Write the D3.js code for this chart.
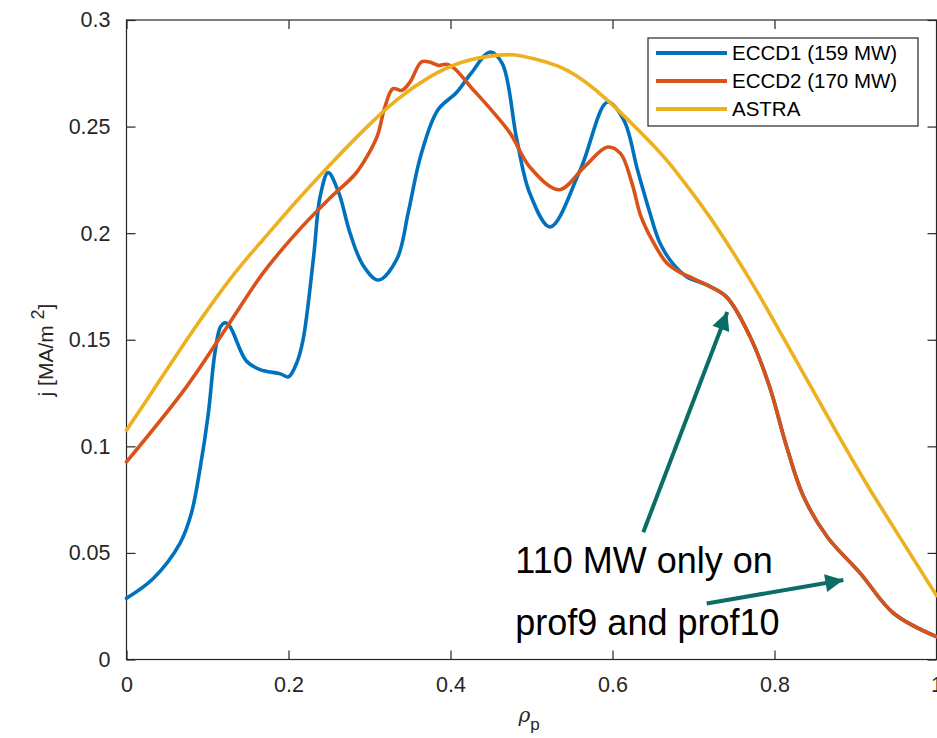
<!DOCTYPE html>
<html>
<head>
<meta charset="utf-8">
<script src="https://cdn.jsdelivr.net/npm/d3@7"></script>
<style>
  html, body { margin: 0; padding: 0; background: #fff; }
  svg { display: block; font-family: "Liberation Sans", Arial, sans-serif; }
</style>
</head>
<body>
<svg id="chart" width="937" height="738"></svg>
<script>
// ---- data ----
const eccd1 = [
  [0, 0.0287], [0.033, 0.038], [0.066, 0.0545], [0.080, 0.0685], [0.091, 0.090],
  [0.101, 0.1154], [0.109, 0.1435], [0.116, 0.156], [0.122, 0.158], [0.128, 0.156],
  [0.148, 0.140], [0.165, 0.136], [0.19, 0.134], [0.200, 0.1326], [0.210, 0.139],
  [0.218, 0.150], [0.231, 0.189], [0.239, 0.217], [0.249, 0.2284], [0.262, 0.219],
  [0.276, 0.200], [0.292, 0.185], [0.311, 0.178], [0.334, 0.188],
  [0.348, 0.210], [0.363, 0.236], [0.384, 0.2576], [0.408, 0.2662], [0.425, 0.2748],
  [0.449, 0.285], [0.464, 0.2795], [0.482, 0.2436], [0.498, 0.2186], [0.523, 0.2029],
  [0.560, 0.2295], [0.594, 0.2615], [0.614, 0.253], [0.631, 0.2295], [0.645, 0.211],
  [0.659, 0.195], [0.675, 0.1855], [0.692, 0.1795], [0.717, 0.1756], [0.741, 0.170],
  [0.770, 0.1513], [0.794, 0.1279], [0.815, 0.0998], [0.836, 0.0763], [0.865, 0.0576],
  [0.906, 0.0404], [0.947, 0.0217], [1.0, 0.0107]
];
const eccd2 = [
  [0, 0.0927], [0.074, 0.1279], [0.124, 0.156], [0.168, 0.181], [0.209, 0.1998],
  [0.250, 0.216], [0.283, 0.228], [0.299, 0.2373], [0.310, 0.246], [0.319, 0.2592],
  [0.329, 0.2678], [0.340, 0.267], [0.350, 0.2709], [0.364, 0.2803], [0.374, 0.2803],
  [0.385, 0.2787], [0.395, 0.2792], [0.405, 0.2772], [0.425, 0.2686], [0.449, 0.2584],
  [0.474, 0.2467], [0.498, 0.231], [0.534, 0.2204], [0.565, 0.231], [0.594, 0.2404],
  [0.610, 0.2373], [0.624, 0.2235], [0.635, 0.208], [0.650, 0.196], [0.667, 0.186],
  [0.684, 0.1815], [0.700, 0.1787], [0.717, 0.1756], [0.741, 0.170], [0.770, 0.1513],
  [0.794, 0.1279], [0.815, 0.0998], [0.836, 0.0763], [0.865, 0.0576], [0.906, 0.0404],
  [0.947, 0.0217], [1.0, 0.0107]
];
const astra = [
  [0, 0.1076], [0.033, 0.1263], [0.074, 0.1498], [0.127, 0.178], [0.168, 0.1967],
  [0.209, 0.2146], [0.251, 0.232], [0.292, 0.248], [0.333, 0.2623], [0.374, 0.2732],
  [0.415, 0.2803], [0.456, 0.2834], [0.480, 0.2836], [0.503, 0.2818], [0.544, 0.2764],
  [0.594, 0.2623], [0.647, 0.2425], [0.675, 0.2305], [0.709, 0.2135], [0.737, 0.198],
  [0.770, 0.178], [0.799, 0.159], [0.836, 0.134], [0.856, 0.1205], [0.885, 0.101],
  [0.915, 0.0815], [0.947, 0.062], [1.0, 0.030]
];
const seriesNames = ["ECCD1 (159 MW)", "ECCD2 (170 MW)", "ASTRA"];
const seriesColors = ["#0072BD", "#D95319", "#EDB120"];
const xTicks = [0, 0.2, 0.4, 0.6, 0.8, 1];
const xTickLabels = ["0", "0.2", "0.4", "0.6", "0.8", "1"];
const yTicks = [0, 0.05, 0.1, 0.15, 0.2, 0.25, 0.3];
const yTickLabels = ["0", "0.05", "0.1", "0.15", "0.2", "0.25", "0.3"];
const annotationLines = ["110 MW only on", "prof9 and prof10"];
const annotationText = [[0.48, 0.0406], [0.48, 0.0115]];
const arrows = [
  { from: [0.638, 0.0597], to: [0.7417, 0.163] },
  { from: [0.7163, 0.0263], to: [0.885, 0.0373] }
];

// ---- layout ----
const svg = d3.select("#chart");
const L = 126.5, R = 936.5, T = 20, B = 659.5;
const x = d3.scaleLinear().domain([0, 1]).range([L, R]);
const y = d3.scaleLinear().domain([0, 0.3]).range([B, T]);
const axisColor = "#262626";
const tickLen = 9;

// box
svg.append("rect").attr("x", L).attr("y", T).attr("width", R - L).attr("height", B - T)
  .attr("fill", "none").attr("stroke", axisColor).attr("stroke-width", 1.2);

// axes (ticks inward)
const xAxisB = d3.axisBottom(x).tickValues(xTicks).tickSize(-tickLen).tickPadding(17)
  .tickFormat((d, i) => xTickLabels[i]);
const gx = svg.append("g").attr("transform", `translate(0,${B})`).call(xAxisB);
const xAxisT = d3.axisTop(x).tickValues(xTicks).tickSize(-tickLen).tickFormat("");
const gxt = svg.append("g").attr("transform", `translate(0,${T})`).call(xAxisT);
const yAxisL = d3.axisLeft(y).tickValues(yTicks).tickSize(-tickLen).tickPadding(16)
  .tickFormat((d, i) => yTickLabels[i]);
const gy = svg.append("g").attr("transform", `translate(${L},0)`).call(yAxisL);
const yAxisR = d3.axisRight(y).tickValues(yTicks).tickSize(-tickLen).tickFormat("");
const gyr = svg.append("g").attr("transform", `translate(${R},0)`).call(yAxisR);
[gx, gxt, gy, gyr].forEach(g => {
  g.select(".domain").remove();
  g.selectAll(".tick line").attr("stroke", axisColor).attr("stroke-width", 1.2);
  g.selectAll(".tick text").attr("fill", axisColor).attr("font-size", 21.5)
    .attr("font-family", "'Liberation Sans', Arial, sans-serif");
});

// series
const lineSharp = d3.line().x(d => x(d[0])).y(d => y(d[1])).curve(d3.curveCatmullRom.alpha(0.5));
const lineSmooth = d3.line().x(d => x(d[0])).y(d => y(d[1])).curve(d3.curveNatural);
const allSeries = [eccd1, eccd2, astra];
allSeries.forEach((s, i) => {
  svg.append("path").datum(s).attr("d", i === 2 ? lineSmooth : lineSharp).attr("fill", "none")
    .attr("stroke", seriesColors[i]).attr("stroke-width", 3.6)
    .attr("stroke-linejoin", "round").attr("stroke-linecap", "round");
});

// axis labels
svg.append("text").attr("transform", "translate(53,350) rotate(-90)")
  .attr("text-anchor", "middle").attr("font-size", 21).attr("fill", axisColor)
  .call(t => {
    t.append("tspan").text("j [MA/m ");
    t.append("tspan").attr("dy", -9).attr("font-size", 18).text("2");
    t.append("tspan").attr("dy", 9).text("]");
  });
svg.append("text").attr("x", 529).attr("y", 722).attr("text-anchor", "middle")
  .attr("font-size", 22).attr("fill", axisColor)
  .call(t => {
    t.append("tspan").attr("font-style", "italic").attr("font-family", "'DejaVu Serif', serif").attr("font-size", 20).text("ρ");
    t.append("tspan").attr("dy", 8).attr("font-size", 17).text("p");
  });

// legend
const lg = svg.append("g");
lg.append("rect").attr("x", 648).attr("y", 38).attr("width", 270).attr("height", 88)
  .attr("fill", "#fff").attr("stroke", axisColor).attr("stroke-width", 1.2);
seriesNames.forEach((n, i) => {
  const yy = 53 + i * 28;
  lg.append("line").attr("x1", 656).attr("x2", 727).attr("y1", yy).attr("y2", yy)
    .attr("stroke", seriesColors[i]).attr("stroke-width", 4);
  lg.append("text").attr("x", 732).attr("y", yy + 7).attr("font-size", 20.5)
    .attr("fill", "#000").text(n);
});

// annotation
const arrowColor = "#0a6e64";
const defs = svg.append("defs");
defs.append("marker").attr("id", "ah").attr("viewBox", "0 0 10 10").attr("refX", 10).attr("refY", 5)
  .attr("markerWidth", 5.5).attr("markerHeight", 4.5).attr("markerUnits", "strokeWidth")
  .attr("orient", "auto")
  .append("path").attr("d", "M0,0 L10,5 L0,10 z").attr("fill", arrowColor);
arrows.forEach(a => {
  svg.append("line").attr("x1", x(a.from[0])).attr("y1", y(a.from[1]))
    .attr("x2", x(a.to[0])).attr("y2", y(a.to[1]))
    .attr("stroke", arrowColor).attr("stroke-width", 4).attr("marker-end", "url(#ah)");
});
annotationLines.forEach((s, i) => {
  svg.append("text").attr("x", x(annotationText[i][0])).attr("y", y(annotationText[i][1]))
    .attr("font-size", 36).attr("fill", "#000").text(s);
});
</script>
</body>
</html>
